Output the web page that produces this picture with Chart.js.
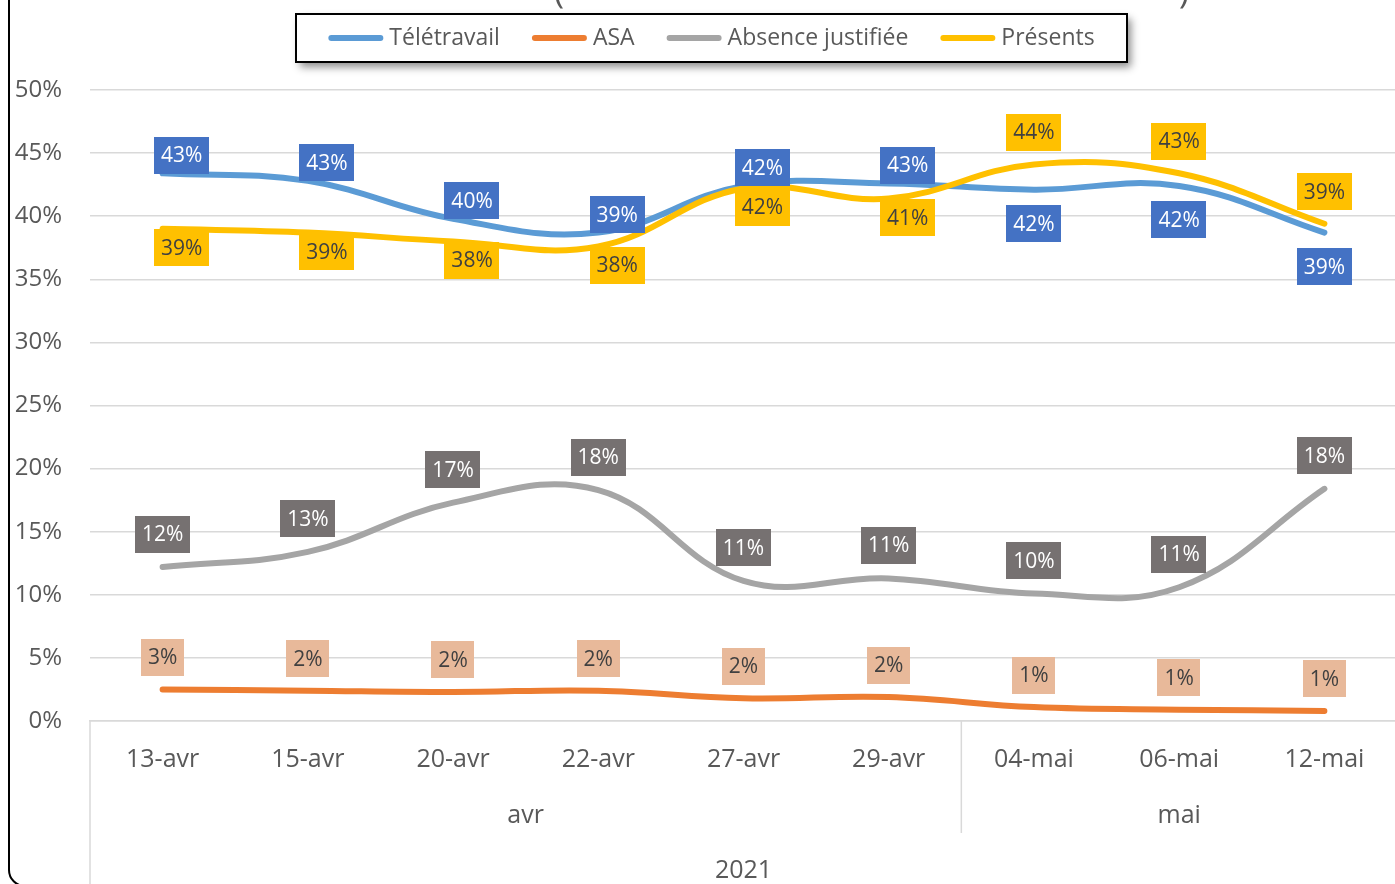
<!DOCTYPE html>
<html lang="fr">
<head>
<meta charset="utf-8">
<title>Télétravail / ASA / Absence / Présents</title>
<script src="https://cdn.jsdelivr.net/npm/chart.js@4.4.1/dist/chart.umd.min.js"></script>
<style>
    html, body { margin: 0; padding: 0; background: #ffffff; overflow: hidden; }
    #wrap { position: relative; width: 1400px; height: 884px; }
</style>
</head>
<body>
<div id="wrap"><canvas id="chartPresence"></canvas></div>
<script>
// categories (3 levels, like the Excel axis)
const dates = ['13-avr', '15-avr', '20-avr', '22-avr', '27-avr', '29-avr', '04-mai', '06-mai', '12-mai'];
const months = ['avr', 'avr', 'avr', 'avr', 'avr', 'avr', 'mai', 'mai', 'mai'];
const years = ['2021', '2021', '2021', '2021', '2021', '2021', '2021', '2021', '2021'];

// series, in %
const teletravail = [43.4, 42.8, 39.8, 38.7, 42.4, 42.6, 42.1, 42.4, 38.7];
const asa = [2.5, 2.4, 2.3, 2.4, 1.8, 1.9, 1.1, 0.9, 0.8];
const absence = [12.2, 13.4, 17.3, 18.3, 11.1, 11.3, 10.1, 10.6, 18.4];
const presents = [39.0, 38.7, 38.0, 37.6, 42.2, 41.4, 44.1, 43.4, 39.4];

const yMin = 0;
const yMax = 50;
const yStep = 5;

const FONT = "'Open Sans', 'Noto Sans', sans-serif";
const TXT = '#595959';
const GRID = '#d9d9d9';

// label boxes: colours + where they sit relative to the point (px)
const labelStyle = [
    { bg: '#4472c4', fg: '#ffffff', shift: i => i < 6 ? [19, -18] : [0, 34] },
    { bg: '#e8b99a', fg: '#404040', shift: i => [0, -32] },
    { bg: '#767171', fg: '#ffffff', shift: i => [0, -33] },
    { bg: '#ffc000', fg: '#404040', shift: i => i < 6 ? [19, 19] : [0, -32] }
];

const frameAndTitle = {
    id: 'frameAndTitle',
    beforeDraw(chart) {
        const ctx = chart.ctx;
        ctx.save();
        ctx.strokeStyle = '#000000';
        ctx.lineWidth = 2;
        ctx.beginPath();
        ctx.roundRect(9, -40, 1430, 926, 16);
        ctx.stroke();
        // title is cut at the top, only the brackets peek out
        ctx.fillStyle = TXT;
        ctx.font = '34px ' + FONT;
        ctx.textBaseline = 'alphabetic';
        ctx.textAlign = 'left';
        ctx.fillText('(', 554, 3);
        ctx.fillText(')', 1179, 3);
        ctx.restore();
    }
};

const dataLabels = {
    id: 'dataLabels',
    afterDatasetsDraw(chart) {
        const ctx = chart.ctx;
        ctx.save();
        ctx.font = '21px ' + FONT;
        ctx.textAlign = 'center';
        ctx.textBaseline = 'middle';
        chart.data.datasets.forEach((ds, di) => {
            const st = labelStyle[di];
            const meta = chart.getDatasetMeta(di);
            meta.data.forEach((pt, i) => {
                const [dx, dy] = st.shift(i);
                const cx = pt.x + dx;
                const cy = pt.y + dy;
                const txt = Math.round(ds.data[i]) + '%';
                const w = ctx.measureText(txt).width + 14;
                const h = 37;
                ctx.fillStyle = st.bg;
                ctx.fillRect(Math.round(cx - w / 2), Math.round(cy - h / 2), Math.round(w), h);
                ctx.fillStyle = st.fg;
                ctx.fillText(txt, cx, cy + 1);
            });
        });
        ctx.restore();
    }
};

const groupAxis = {
    id: 'groupAxis',
    afterDraw(chart) {
        const ctx = chart.ctx;
        const xs = chart.scales.x;
        const band = xs.width / dates.length;
        const top = chart.chartArea.bottom;
        const monthY = 816;
        const yearY = 871;
        ctx.save();
        ctx.strokeStyle = GRID;
        ctx.lineWidth = 1.5;
        ctx.fillStyle = TXT;
        ctx.font = '25px ' + FONT;
        ctx.textAlign = 'center';
        ctx.textBaseline = 'middle';

        // month groups
        let start = 0;
        for (let i = 1; i <= months.length; i++) {
            if (i === months.length || months[i] !== months[start]) {
                const left = xs.getPixelForValue(start) - band / 2;
                const right = xs.getPixelForValue(i - 1) + band / 2;
                ctx.fillText(months[start], (left + right) / 2, monthY);
                if (i < months.length) {
                    ctx.beginPath();
                    ctx.moveTo(right, top);
                    ctx.lineTo(right, 833);
                    ctx.stroke();
                }
                start = i;
            }
        }
        // year group
        const l = xs.getPixelForValue(0) - band / 2;
        const r = xs.getPixelForValue(dates.length - 1) + band / 2;
        ctx.fillText(years[0], (l + r) / 2, yearY);
        [l, r].forEach(xx => {
            ctx.beginPath();
            ctx.moveTo(xx, top);
            ctx.lineTo(xx, 890);
            ctx.stroke();
        });
        ctx.restore();
    }
};

const boxLegend = {
    id: 'boxLegend',
    afterDraw(chart) {
        const ctx = chart.ctx;
        const box = { x: 296, y: 14, w: 831, h: 48 };
        ctx.save();
        ctx.shadowColor = 'rgba(0,0,0,0.45)';
        ctx.shadowBlur = 8;
        ctx.shadowOffsetX = 4;
        ctx.shadowOffsetY = 5;
        ctx.fillStyle = '#ffffff';
        ctx.fillRect(box.x, box.y, box.w, box.h);
        ctx.shadowColor = 'transparent';
        ctx.strokeStyle = '#000000';
        ctx.lineWidth = 2;
        ctx.strokeRect(box.x, box.y, box.w, box.h);

        ctx.font = '23px ' + FONT;
        const lineLen = 55, gapTxt = 6, gapItem = 32;
        const items = chart.data.datasets.map(ds => ({ ds, w: ctx.measureText(ds.label).width }));
        const total = items.reduce((s, it) => s + lineLen + gapTxt + it.w, 0) + gapItem * (items.length - 1);
        let x = box.x + (box.w - total) / 2;
        const cy = box.y + box.h / 2;
        ctx.textBaseline = 'middle';
        ctx.textAlign = 'left';
        items.forEach(it => {
            ctx.strokeStyle = it.ds.borderColor;
            ctx.lineWidth = 6;
            ctx.lineCap = 'round';
            ctx.beginPath();
            ctx.moveTo(x + 3, cy);
            ctx.lineTo(x + lineLen - 3, cy);
            ctx.stroke();
            ctx.fillStyle = TXT;
            ctx.fillText(it.ds.label, x + lineLen + gapTxt, cy);
            x += lineLen + gapTxt + it.w + gapItem;
        });
        ctx.restore();
    }
};

function serie(label, data, color, order) {
    return {
        label: label,
        data: data,
        borderColor: color,
        backgroundColor: color,
        borderWidth: 6,
        borderCapStyle: 'round',
        borderJoinStyle: 'round',
        tension: 0.4,
        pointRadius: 0,
        pointHoverRadius: 0,
        order: order
    };
}

const ctx = document.getElementById('chartPresence').getContext('2d');
const myChart = new Chart(ctx, {
    type: 'line',
    data: {
        labels: dates,
        datasets: [
            serie('Télétravail', teletravail, '#5b9bd5', 3),
            serie('ASA', asa, '#ed7d31', 2),
            serie('Absence justifiée', absence, '#a5a5a5', 1),
            serie('Présents', presents, '#ffc000', 0)
        ]
    },
    options: {
        responsive: true,
        maintainAspectRatio: false,
        animation: false,
        layout: { padding: { top: 90, right: 3, left: 0, bottom: 0 } },
        scales: {
            x: {
                offset: true,
                grid: { display: false, drawTicks: false },
                border: { display: true, color: GRID, width: 1.5 },
                ticks: {
                    color: TXT,
                    font: { family: FONT, size: 25 },
                    padding: 24,
                    maxRotation: 0,
                    autoSkip: false
                },
                afterFit: s => { s.height = 163; }
            },
            y: {
                min: yMin,
                max: yMax,
                grid: { color: GRID, lineWidth: 1.5, drawTicks: false },
                border: { display: false },
                ticks: {
                    stepSize: yStep,
                    color: TXT,
                    font: { family: FONT, size: 24 },
                    padding: 28,
                    callback: v => v + '%'
                },
                afterFit: s => { s.width = 90; }
            }
        },
        plugins: {
            legend: { display: false },
            tooltip: { enabled: false }
        }
    },
    plugins: [frameAndTitle, dataLabels, groupAxis, boxLegend]
});
</script>
</body>
</html>
